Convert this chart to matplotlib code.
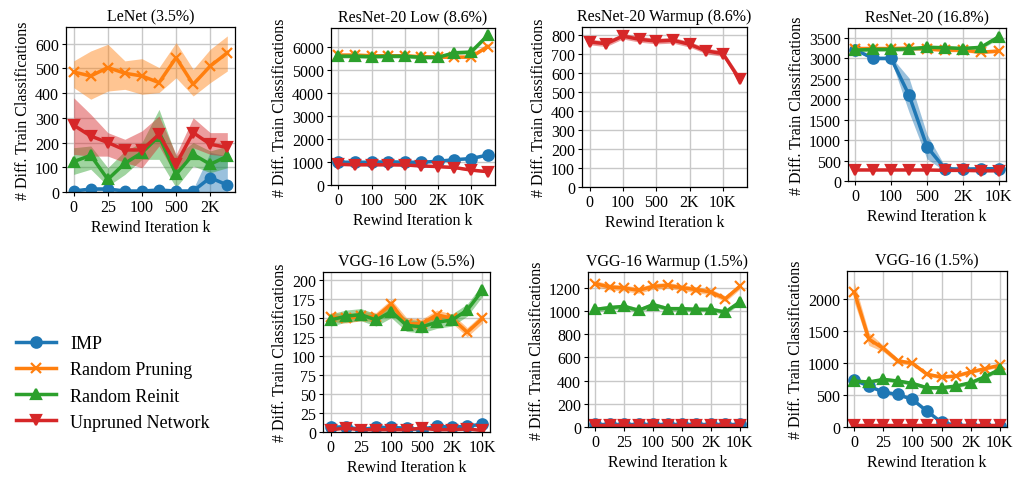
import matplotlib
matplotlib.use("Agg")
import matplotlib.pyplot as plt
import numpy as np

plt.rcParams['font.family'] = ['Liberation Serif', 'DejaVu Serif']
plt.rcParams['font.size'] = 11.5

C_IMP = '#1f77b4'
C_RP = '#ff7f0e'
C_RR = '#2ca02c'
C_UN = '#d62728'

# ---------------- data ----------------
# tick labels
lbl_a = ['0', '25', '100', '500', '2K']
lbl_b = ['0', '100', '500', '2K', '10K']
lbl_c = ['0', '25', '100', '500', '2K', '10K']

# LeNet (3.5%)
lenet_imp = [4, 12, 12, 4, 4, 8, 4, 4, 58, 28]
lenet_imp_lo = [0, 4, 4, 0, 0, 0, 0, 0, 0, 0]
lenet_imp_hi = [10, 20, 20, 10, 10, 16, 10, 12, 160, 145]
lenet_rp = [485, 469, 503, 480, 469, 442, 543, 435, 509, 563]
lenet_rp_lo = [422, 375, 408, 415, 395, 402, 462, 388, 442, 489]
lenet_rp_hi = [530, 570, 597, 530, 539, 503, 604, 496, 577, 631]
lenet_rr = [123, 148, 51, 116, 159, 226, 71, 152, 112, 145]
lenet_rr_lo = [71, 92, 24, 71, 132, 132, 18, 105, 78, 98]
lenet_rr_hi = [179, 186, 98, 166, 200, 334, 145, 200, 166, 186]
lenet_un = [270, 226, 200, 170, 170, 233, 112, 240, 193, 180]
lenet_un_lo = [152, 145, 145, 119, 98, 186, 65, 179, 152, 145]
lenet_un_hi = [381, 314, 240, 213, 247, 307, 152, 300, 240, 240]

# ResNet-20 Low (8.6%)
r20low_imp = [990, 990, 990, 1010, 990, 990, 1030, 1100, 1150, 1300]
r20low_imp_err = [30, 30, 30, 30, 30, 30, 30, 40, 40, 40]
r20low_rp = [5650, 5650, 5620, 5620, 5620, 5580, 5560, 5560, 5560, 6020]
r20low_rp_err = [60, 60, 60, 60, 60, 60, 60, 60, 60, 60]
r20low_rr = [5600, 5600, 5580, 5600, 5600, 5550, 5550, 5750, 5780, 6500]
r20low_rr_err = [80, 80, 80, 80, 80, 80, 80, 80, 80, 80]
r20low_un = [900, 880, 880, 880, 870, 830, 800, 760, 650, 580]
r20low_un_err = [50, 50, 50, 50, 50, 50, 50, 50, 50, 50]

# ResNet-20 Warmup (8.6%)
r20warm_un = [764, 755, 795, 778, 769, 773, 752, 717, 703, 568]
r20warm_un_err = [15, 15, 15, 15, 15, 15, 15, 15, 15, 20]

# ResNet-20 (16.8%)
r20_imp = [3210, 3000, 3000, 2100, 840, 300, 290, 300, 300]
r20_imp_err = [30, 40, 40, 420, 300, 60, 30, 30, 30]
r20_rp = [3240, 3240, 3240, 3250, 3230, 3200, 3200, 3150, 3180]
r20_rp_err = [40, 40, 40, 40, 40, 40, 40, 40, 40]
r20_rr = [3200, 3220, 3220, 3230, 3270, 3260, 3240, 3270, 3530]
r20_rr_err = [50, 50, 50, 50, 50, 50, 50, 50, 50]
r20_un = [270, 270, 270, 270, 270, 260, 260, 250, 250]
r20_un_err = [20, 20, 20, 20, 20, 20, 20, 20, 20]

# VGG-16 Low (5.5%)
vgglow_imp = [6, 7, 3, 6, 6, 5, 3, 8, 6, 8, 10]
vgglow_imp_err = [2, 2, 2, 2, 2, 2, 2, 2, 2, 2, 2]
vgglow_rp = [151, 149, 152, 151, 168, 142, 142, 154, 149, 131, 149]
vgglow_rp_err = [6, 6, 6, 6, 6, 8, 6, 6, 6, 6, 6]
vgglow_rr = [147, 152, 154, 147, 158, 140, 138, 144, 147, 160, 186]
vgglow_rr_err = [8, 8, 8, 8, 8, 8, 8, 8, 8, 8, 8]
vgglow_un = [3, 5, 3, 3, 3, 3, 5, 3, 3, 4, 2]
vgglow_un_err = [1, 1, 1, 1, 1, 1, 1, 1, 1, 1, 1]

# VGG-16 Warmup (1.5%)
vggwarm_imp = [22, 22, 22, 22, 22, 22, 22, 22, 22, 22, 22]
vggwarm_imp_err = [4, 4, 4, 4, 4, 4, 4, 4, 4, 4, 4]
vggwarm_rp = [1235, 1206, 1197, 1177, 1211, 1220, 1200, 1183, 1163, 1105, 1211]
vggwarm_rp_err = [25, 25, 25, 25, 25, 25, 25, 25, 25, 25, 25]
vggwarm_rr = [1013, 1028, 1039, 1005, 1054, 1019, 1019, 1013, 1013, 990, 1077]
vggwarm_rr_err = [20, 20, 20, 20, 20, 20, 20, 20, 20, 20, 20]
vggwarm_un = [15, 15, 15, 15, 15, 15, 15, 15, 15, 15, 15]
vggwarm_un_err = [3, 3, 3, 3, 3, 3, 3, 3, 3, 3, 3]

# VGG-16 (1.5%)
vgg_imp = [737, 642, 547, 510, 432, 247, 74, 25, 20, 20, 20]
vgg_imp_err = [20, 20, 20, 20, 20, 20, 20, 10, 5, 5, 5]
vgg_rp = [2116, 1379, 1232, 1037, 1000, 826, 784, 800, 863, 916, 968]
vgg_rp_err = [160, 100, 50, 40, 30, 30, 30, 25, 25, 25, 30]
vgg_rr = [721, 705, 747, 721, 684, 616, 616, 642, 695, 789, 905]
vgg_rr_err = [30, 30, 30, 30, 30, 30, 30, 30, 30, 30, 30]
vgg_un = [25, 25, 25, 25, 25, 25, 25, 25, 25, 25, 25]
vgg_un_err = [3, 3, 3, 3, 3, 3, 3, 3, 3, 3, 3]

# ---------------- figure ----------------
W, H = 1016, 481
fig = plt.figure(figsize=(W / 100, H / 100), dpi=100)


def make_ax(left, top, right, bottom):
    return fig.add_axes([left / W, 1 - bottom / H, (right - left) / W, (bottom - top) / H])


STYLE = {
    'imp': dict(color=C_IMP, marker='o', label='IMP'),
    'rp': dict(color=C_RP, marker='x', label='Random Pruning'),
    'rr': dict(color=C_RR, marker='^', label='Random Reinit'),
    'un': dict(color=C_UN, marker='v', label='Unpruned Network'),
}


def draw(ax, key, y, lo, hi):
    st = STYLE[key]
    x = np.arange(len(y))
    ax.fill_between(x, lo, hi, color=st['color'], alpha=0.45, lw=0)
    ax.plot(x, y, color=st['color'], marker=st['marker'], lw=2.5, ms=7.5,
            mew=1.6, label=st['label'])


def sym(y, e):
    y = np.asarray(y, float)
    e = np.asarray(e, float)
    return y, y - e, y + e


FS = 11.5


def style_ax(ax, title, labels, ylim):
    ax.set_title(title, fontsize=FS, pad=5)
    ax.set_xlabel('Rewind Iteration k', fontsize=FS, labelpad=3)
    ax.set_ylabel('# Diff. Train Classifications', fontsize=FS, labelpad=3)
    ax.set_xticks(np.arange(len(labels)) * 2)
    ax.set_xticklabels(labels)
    ax.set_ylim(*ylim)
    ax.grid(True, color='#c8c8c8', lw=1.0)
    ax.set_axisbelow(True)
    ax.tick_params(labelsize=FS, length=3, width=0.8, pad=2)
    for s in ax.spines.values():
        s.set_linewidth(0.9)


# LeNet
ax = make_ax(66, 28, 235, 193)
ax.fill_between(np.arange(10), lenet_imp_lo, lenet_imp_hi, color=C_IMP, alpha=0.45, lw=0)
ax.plot(np.arange(10), lenet_imp, color=C_IMP, marker='o', lw=2.5, ms=7.5)
draw(ax, 'rp', lenet_rp, lenet_rp_lo, lenet_rp_hi)
draw(ax, 'rr', lenet_rr, lenet_rr_lo, lenet_rr_hi)
draw(ax, 'un', lenet_un, lenet_un_lo, lenet_un_hi)
style_ax(ax, 'LeNet (3.5%)', lbl_a, (0, 667))
ax.set_yticks([0, 100, 200, 300, 400, 500, 600])

# ResNet-20 Low
ax = make_ax(331, 29, 495, 186)
draw(ax, 'imp', *sym(r20low_imp, r20low_imp_err))
draw(ax, 'rp', *sym(r20low_rp, r20low_rp_err))
draw(ax, 'rr', *sym(r20low_rr, r20low_rr_err))
draw(ax, 'un', *sym(r20low_un, r20low_un_err))
style_ax(ax, 'ResNet-20 Low (8.6%)', lbl_b, (0, 6826))
ax.set_yticks(range(0, 7000, 1000))

# ResNet-20 Warmup
ax = make_ax(582, 28, 747, 188)
draw(ax, 'un', *sym(r20warm_un, r20warm_un_err))
style_ax(ax, 'ResNet-20 Warmup (8.6%)', lbl_b, (0, 843))
ax.set_yticks(range(0, 900, 100))

# ResNet-20
ax = make_ax(848, 29, 1006, 182)
draw(ax, 'imp', *sym(r20_imp, r20_imp_err))
draw(ax, 'rp', *sym(r20_rp, r20_rp_err))
draw(ax, 'rr', *sym(r20_rr, r20_rr_err))
draw(ax, 'un', *sym(r20_un, r20_un_err))
style_ax(ax, 'ResNet-20 (16.8%)', lbl_b, (0, 3742))
ax.set_yticks(range(0, 4000, 500))

# VGG-16 Low
ax = make_ax(323, 273, 490, 433)
draw(ax, 'imp', *sym(vgglow_imp, vgglow_imp_err))
draw(ax, 'rp', *sym(vgglow_rp, vgglow_rp_err))
draw(ax, 'rr', *sym(vgglow_rr, vgglow_rr_err))
draw(ax, 'un', *sym(vgglow_un, vgglow_un_err))
style_ax(ax, 'VGG-16 Low (5.5%)', lbl_c, (0, 210))
ax.set_yticks(range(0, 225, 25))

# VGG-16 Warmup
ax = make_ax(588, 273, 747, 428)
draw(ax, 'imp', *sym(vggwarm_imp, vggwarm_imp_err))
draw(ax, 'rp', *sym(vggwarm_rp, vggwarm_rp_err))
draw(ax, 'rr', *sym(vggwarm_rr, vggwarm_rr_err))
draw(ax, 'un', *sym(vggwarm_un, vggwarm_un_err))
style_ax(ax, 'VGG-16 Warmup (1.5%)', lbl_c, (0, 1335))
ax.set_yticks(range(0, 1400, 200))

# VGG-16
ax = make_ax(847, 272, 1007, 428)
draw(ax, 'imp', *sym(vgg_imp, vgg_imp_err))
draw(ax, 'rp', *sym(vgg_rp, vgg_rp_err))
draw(ax, 'rr', *sym(vgg_rr, vgg_rr_err))
draw(ax, 'un', *sym(vgg_un, vgg_un_err))
style_ax(ax, 'VGG-16 (1.5%)', lbl_c, (0, 2447))
ax.set_yticks(range(0, 2500, 500))

handles, labels = ax.get_legend_handles_labels()
fig.legend(handles, labels, loc='center left', bbox_to_anchor=(0.0, 1 - 384 / H),
           frameon=False, fontsize=13, handlelength=2.2, handletextpad=0.8,
           labelspacing=0.5, borderaxespad=0.5)

fig.savefig('out.png', dpi=100)
